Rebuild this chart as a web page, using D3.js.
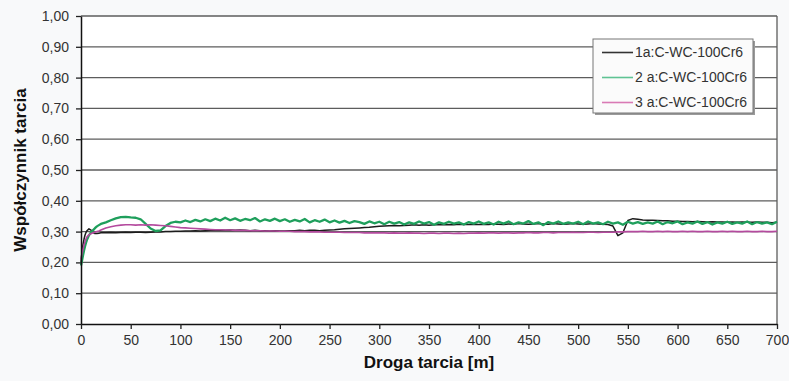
<!DOCTYPE html>
<html><head><meta charset="utf-8">
<script src="https://cdn.jsdelivr.net/npm/d3@7/dist/d3.min.js"></script>
<style>html,body{margin:0;padding:0;background:#f8f9fa;}svg{display:block;}</style>
</head><body>
<svg id="c" width="789" height="381"></svg>
<script>
const distance = [0,1,2,3,4,5,6,8,10,12,14,16,18,20,
25,30,35,40,45,50,55,60,65,70,75,80,85,90,95,100,
105,110,115,120,125,130,135,140,145,150,155,160,165,170,175,180,185,190,195,200,
205,210,215,220,225,230,235,240,245,250,255,260,265,270,275,280,285,290,295,300,
305,310,315,320,325,330,335,340,345,350,355,360,365,370,375,380,385,390,395,400,
405,410,415,420,425,430,435,440,445,450,455,460,465,470,475,480,485,490,495,500,
505,510,515,520,525,530,535,540,545,550,555,560,565,570,575,580,585,590,595,600,
605,610,615,620,625,630,635,640,645,650,655,660,665,670,675,680,685,690,695,700];

const series1 = [0.200,0.235,0.258,0.275,0.288,0.297,0.303,0.309,0.305,0.297,0.294,0.294,0.295,0.296,
0.296,0.297,0.296,0.297,0.298,0.297,0.298,0.298,0.297,0.298,0.299,0.299,0.300,0.300,0.301,0.301,
0.302,0.302,0.303,0.302,0.303,0.304,0.304,0.305,0.304,0.305,0.304,0.305,0.304,0.303,0.304,0.303,0.303,0.302,0.303,0.302,
0.302,0.303,0.303,0.304,0.303,0.304,0.304,0.303,0.304,0.305,0.306,0.308,0.309,0.310,0.311,0.312,0.313,0.314,0.316,0.317,
0.318,0.319,0.320,0.319,0.320,0.321,0.322,0.321,0.322,0.321,0.322,0.323,0.322,0.323,0.322,0.324,0.323,0.323,0.324,0.323,
0.324,0.323,0.325,0.324,0.323,0.325,0.324,0.326,0.325,0.324,0.325,0.326,0.325,0.324,0.326,0.325,0.324,0.325,0.326,0.325,
0.324,0.325,0.326,0.325,0.324,0.323,0.318,0.287,0.296,0.336,0.342,0.340,0.338,0.337,0.337,0.336,0.335,0.335,0.334,0.334,
0.333,0.333,0.332,0.333,0.332,0.331,0.332,0.331,0.331,0.330,0.331,0.330,0.331,0.330,0.330,0.331,0.330,0.330,0.329,0.330];

const series2 = [0.190,0.205,0.222,0.238,0.252,0.263,0.273,0.288,0.297,0.304,0.311,0.317,0.321,0.325,
0.330,0.337,0.343,0.347,0.348,0.346,0.345,0.340,0.325,0.310,0.302,0.304,0.318,0.328,0.332,0.330,
0.336,0.331,0.338,0.333,0.340,0.334,0.342,0.336,0.345,0.337,0.343,0.335,0.341,0.337,0.344,0.333,0.340,0.335,0.342,0.334,
0.340,0.332,0.338,0.333,0.341,0.330,0.337,0.332,0.339,0.330,0.336,0.329,0.335,0.328,0.334,0.331,0.325,0.333,0.327,0.332,
0.324,0.332,0.326,0.331,0.323,0.330,0.325,0.333,0.326,0.331,0.322,0.330,0.325,0.332,0.326,0.330,0.323,0.331,0.326,0.333,
0.325,0.330,0.323,0.332,0.326,0.333,0.324,0.330,0.326,0.334,0.325,0.330,0.321,0.331,0.326,0.333,0.325,0.330,0.326,0.332,
0.324,0.333,0.326,0.330,0.324,0.332,0.326,0.330,0.322,0.332,0.326,0.331,0.325,0.330,0.326,0.333,0.324,0.331,0.327,0.333,
0.324,0.330,0.326,0.333,0.325,0.331,0.323,0.330,0.326,0.332,0.325,0.330,0.326,0.333,0.324,0.331,0.326,0.330,0.324,0.332];

const series3 = [0.210,0.228,0.243,0.256,0.267,0.276,0.283,0.290,0.293,0.296,0.298,0.300,0.302,0.305,
0.312,0.316,0.319,0.321,0.322,0.322,0.321,0.322,0.321,0.322,0.321,0.320,0.319,0.317,0.315,0.313,
0.312,0.311,0.310,0.309,0.308,0.307,0.306,0.306,0.305,0.305,0.304,0.304,0.304,0.303,0.303,0.303,0.302,0.302,0.302,0.301,
0.301,0.301,0.300,0.300,0.300,0.299,0.299,0.299,0.298,0.298,0.298,0.298,0.297,0.297,0.297,0.297,0.296,0.296,0.296,0.296,
0.296,0.295,0.296,0.295,0.295,0.296,0.295,0.295,0.294,0.295,
0.295,0.294,0.295,0.295,0.294,0.295,0.294,0.295,0.295,0.296,
0.295,0.296,0.296,0.295,0.296,0.296,0.295,0.296,0.296,0.297,
0.296,0.296,0.297,0.297,0.296,0.297,0.297,0.297,0.298,0.297,
0.297,0.298,0.298,0.297,0.298,0.298,
0.298,0.299,0.299,0.300,0.300,0.300,0.301,0.300,0.300,0.301,
0.300,0.301,0.300,0.300,0.301,0.300,0.301,0.300,0.300,0.301,
0.300,0.300,0.301,0.300,0.301,0.300,0.300,0.301,0.300,0.300,
0.301,0.300,0.300,0.301];

const seriesNames = ["1a:C-WC-100Cr6", "2 a:C-WC-100Cr6", "3 a:C-WC-100Cr6"];
const xTicks = [0,50,100,150,200,250,300,350,400,450,500,550,600,650,700];
const yTicks = [0,0.1,0.2,0.3,0.4,0.5,0.6,0.7,0.8,0.9,1.0];
const xTitle = "Droga tarcia [m]";
const yTitle = "Współczynnik tarcia";

const svg = d3.select("#c");
const font = "'Liberation Sans', Arial, sans-serif";
const L = 81, R = 777, T = 16, B = 324;
const x = d3.scaleLinear().domain([0,700]).range([L,R]);
const y = d3.scaleLinear().domain([0,1]).range([B,T]);
const fmt = v => d3.format(".2f")(v).replace(".", ",");

svg.append("rect").attr("x",L).attr("y",T).attr("width",R-L).attr("height",B-T).attr("fill","#ffffff");

// gridlines
svg.append("g").selectAll("line").data(yTicks.filter(d=>d>0)).join("line")
  .attr("x1",L).attr("x2",R).attr("y1",d=>y(d)).attr("y2",d=>y(d))
  .attr("stroke","#5c5c5c").attr("stroke-width",1.3);
svg.append("line").attr("x1",R).attr("x2",R).attr("y1",T).attr("y2",B)
  .attr("stroke","#5c5c5c").attr("stroke-width",1.3);

// series
const pts = s => distance.map((d,i)=>[d, s[i]]);
const line = d3.line().x(d=>x(d[0])).y(d=>y(d[1]));
const styles = [
  {data: series1, color:"#1c1c1c", w:1.5},
  {data: series2, color:"#1f9f5c", w:2.3},
  {data: series3, color:"#b44a9e", w:1.6}
];
svg.append("g").selectAll("path").data(styles).join("path")
  .attr("d", d=>line(pts(d.data))).attr("fill","none")
  .attr("stroke", d=>d.color).attr("stroke-width", d=>d.w).attr("stroke-linejoin","round");

// axes
const yAxis = d3.axisLeft(y).tickValues(yTicks).tickFormat(fmt).tickSize(5).tickSizeOuter(0).tickPadding(7);
const gy = svg.append("g").attr("transform",`translate(${L},0)`).call(yAxis);
const xAxis = d3.axisBottom(x).tickValues(xTicks).tickFormat(d3.format("d")).tickSize(5).tickSizeOuter(0).tickPadding(6);
const gx = svg.append("g").attr("transform",`translate(0,${B})`).call(xAxis);
[gx, gy].forEach(g => {
  g.select(".domain").attr("stroke","#111").attr("stroke-width",1.5);
  g.selectAll(".tick line").attr("stroke","#222").attr("stroke-width",1.3);
  g.selectAll(".tick text").attr("fill","#333").style("font-family",font).style("font-size","14px");
});

// titles
svg.append("text").attr("x",(L+R)/2).attr("y",368).attr("text-anchor","middle")
  .style("font-family",font).style("font-size","17px").style("font-weight","bold").attr("fill","#111").text(xTitle);
svg.append("text").attr("transform",`translate(26,${(T+B)/2}) rotate(-90)`).attr("text-anchor","middle")
  .style("font-family",font).style("font-size","17px").style("font-weight","bold").attr("fill","#111").text(yTitle);

// legend
const lg = svg.append("g");
lg.append("rect").attr("x",595).attr("y",41).attr("width",160).attr("height",74).attr("fill","#9a9a9a");
lg.append("rect").attr("x",593).attr("y",39).attr("width",160).attr("height",74)
  .attr("fill","#fbfbfb").attr("stroke","#777").attr("stroke-width",1);
const lcol = ["#333333","#5fc393","#d97ab5"];
const items = lg.selectAll("g.it").data(seriesNames).join("g").attr("class","it")
  .attr("transform",(d,i)=>`translate(0,${52.5 + i*25})`);
items.append("line").attr("x1",602).attr("x2",633).attr("y1",0).attr("y2",0)
  .attr("stroke",(d,i)=>lcol[i]).attr("stroke-width",1.6);
items.append("text").attr("x",635).attr("y",0).attr("dy","0.35em")
  .style("font-family",font).style("font-size","14px").attr("fill","#333").text(d=>d);
</script>
</body></html>
